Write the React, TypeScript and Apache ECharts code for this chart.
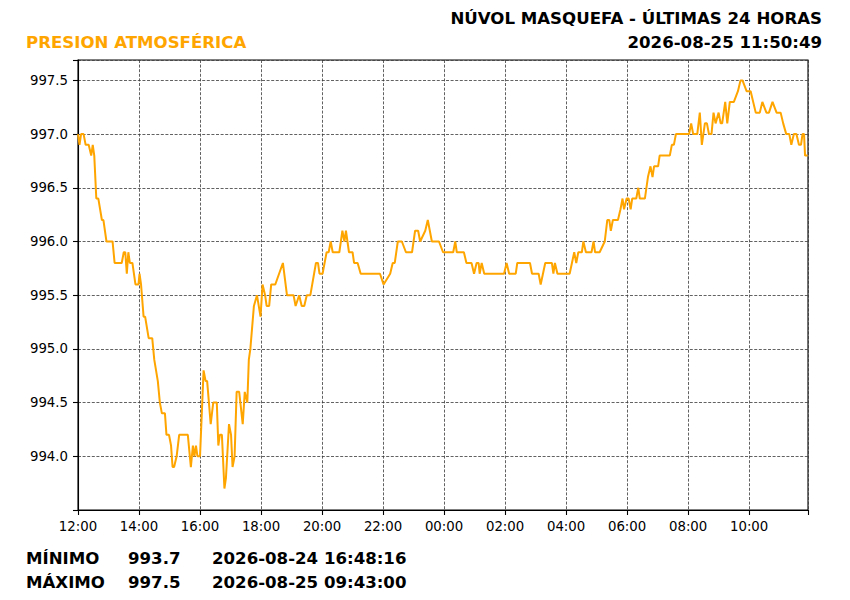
import React, { useEffect, useRef } from "react";
import * as echarts from "echarts";

const TITLE_LEFT = "PRESION ATMOSFÉRICA";
const TITLE_RIGHT_1 = "NÚVOL MASQUEFA - ÚLTIMAS 24 HORAS";
const TITLE_RIGHT_2 = "2026-08-25 11:50:49";

const STAT_LABELS = ["MÍNIMO", "MÁXIMO"];
const STAT_VALUES = ["993.7", "997.5"];
const STAT_TIMES = ["2026-08-24 16:48:16", "2026-08-25 09:43:00"];

const X_TICK_LABELS = ["12:00", "14:00", "16:00", "18:00", "20:00", "22:00", "00:00", "02:00", "04:00", "06:00", "08:00", "10:00"];
const Y_TICK_VALUES = [994.0, 994.5, 995.0, 995.5, 996.0, 996.5, 997.0, 997.5];

const TIMES = [
  "12:00", "12:03", "12:06", "12:11", "12:15", "12:21", "12:26", "12:29", "12:32", "12:36",
  "12:40", "12:47", "12:50", "12:56", "13:08", "13:12", "13:26", "13:30", "13:33", "13:36",
  "13:39", "13:42", "13:47", "13:53", "13:59", "14:01", "14:04", "14:09", "14:12", "14:19",
  "14:26", "14:30", "14:37", "14:41", "14:45", "14:51", "14:54", "14:59", "15:03", "15:06",
  "15:09", "15:14", "15:19", "15:36", "15:38", "15:42", "15:46", "15:49", "15:52", "15:55",
  "16:00", "16:07", "16:11", "16:14", "16:21", "16:26", "16:33", "16:36", "16:39", "16:43",
  "16:48", "16:51", "16:57", "17:01", "17:04", "17:08", "17:12", "17:17", "17:24", "17:28",
  "17:33", "17:36", "17:39", "17:46", "17:52", "17:59", "18:03", "18:08", "18:11", "18:16",
  "18:20", "18:28", "18:43", "18:51", "19:04", "19:08", "19:15", "19:20", "19:25", "19:30",
  "19:37", "19:48", "19:52", "19:55", "20:01", "20:09", "20:13", "20:17", "20:21", "20:34",
  "20:40", "20:44", "20:47", "20:53", "21:00", "21:03", "21:10", "21:16", "21:54", "22:01",
  "22:14", "22:19", "22:23", "22:29", "22:37", "22:45", "22:57", "23:03", "23:09", "23:13",
  "23:23", "23:28", "23:36", "23:50", "23:58", "00:18", "00:22", "00:25", "00:39", "00:44",
  "00:54", "00:59", "01:04", "01:08", "01:10", "01:14", "01:19", "01:58", "02:03", "02:08",
  "02:21", "02:24", "02:49", "02:53", "03:06", "03:10", "03:19", "03:32", "03:35", "03:38",
  "03:43", "04:07", "04:16", "04:20", "04:24", "04:31", "04:34", "04:39", "04:50", "04:54",
  "04:57", "05:06", "05:16", "05:21", "05:25", "05:28", "05:32", "05:42", "05:47", "05:51",
  "05:54", "05:59", "06:03", "06:07", "06:10", "06:18", "06:22", "06:25", "06:35", "06:41",
  "06:46", "06:50", "06:53", "07:01", "07:04", "07:24", "07:28", "07:32", "07:36", "08:02",
  "08:06", "08:10", "08:18", "08:23", "08:27", "08:33", "08:37", "08:41", "08:46", "08:50",
  "08:54", "09:00", "09:04", "09:07", "09:13", "09:17", "09:22", "09:30", "09:38", "09:43",
  "09:47", "09:55", "10:03", "10:13", "10:21", "10:26", "10:34", "10:39", "10:46", "10:54",
  "11:02", "11:07", "11:13", "11:19", "11:23", "11:28", "11:33", "11:38", "11:42", "11:45",
  "11:48", "11:50", "11:55",
];

const PRESSURE = [
  997.0, 996.9, 997.0, 997.0, 996.9, 996.9, 996.8, 996.9, 996.8, 996.4,
  996.4, 996.2, 996.2, 996.0, 996.0, 995.8, 995.8, 995.9, 995.9, 995.7,
  995.9, 995.8, 995.8, 995.6, 995.6, 995.7, 995.6, 995.3, 995.3, 995.1,
  995.1, 994.9, 994.7, 994.5, 994.4, 994.4, 994.2, 994.2, 994.1, 993.9,
  993.9, 994.0, 994.2, 994.2, 994.1, 993.9, 994.1, 994.0, 994.1, 994.0,
  994.0, 994.8, 994.7, 994.7, 994.3, 994.5, 994.5, 994.1, 994.2, 994.2,
  993.7, 993.8, 994.3, 994.2, 993.9, 994.0, 994.6, 994.6, 994.3, 994.6,
  994.5, 994.9, 995.0, 995.4, 995.5, 995.3, 995.6, 995.5, 995.4, 995.4,
  995.6, 995.6, 995.8, 995.5, 995.5, 995.4, 995.5, 995.4, 995.4, 995.5,
  995.5, 995.8, 995.8, 995.7, 995.7, 995.9, 995.9, 996.0, 995.9, 995.9,
  996.1, 996.0, 996.1, 995.9, 995.9, 995.8, 995.8, 995.7, 995.7, 995.6,
  995.7, 995.8, 995.8, 996.0, 996.0, 995.9, 995.9, 996.1, 996.1, 996.0,
  996.1, 996.2, 996.0, 996.0, 995.9, 995.9, 996.0, 995.9, 995.9, 995.8,
  995.8, 995.7, 995.8, 995.8, 995.7, 995.8, 995.7, 995.7, 995.8, 995.7,
  995.7, 995.8, 995.8, 995.7, 995.7, 995.6, 995.8, 995.8, 995.7, 995.8,
  995.7, 995.7, 995.9, 995.8, 995.9, 995.9, 996.0, 995.9, 995.9, 996.0,
  995.9, 995.9, 996.0, 996.2, 996.2, 996.1, 996.2, 996.2, 996.3, 996.4,
  996.3, 996.4, 996.4, 996.3, 996.4, 996.4, 996.5, 996.4, 996.4, 996.6,
  996.7, 996.6, 996.7, 996.7, 996.8, 996.8, 996.9, 996.9, 997.0, 997.0,
  997.1, 997.0, 997.0, 997.2, 996.9, 997.1, 997.1, 997.0, 997.0, 997.2,
  997.1, 997.2, 997.1, 997.1, 997.3, 997.1, 997.3, 997.3, 997.4, 997.5,
  997.5, 997.4, 997.4, 997.2, 997.2, 997.3, 997.2, 997.2, 997.3, 997.2,
  997.2, 997.1, 997.0, 997.0, 996.9, 997.0, 997.0, 996.9, 996.9, 997.0,
  997.0, 996.8, 996.8,
];

const FONT = "'DejaVu Sans', Verdana, sans-serif";

function hoursSinceNoon(t: string): number {
  const [h, m] = t.split(":").map(Number);
  return ((h - 12 + 24) % 24) + m / 60;
}

export default function App() {
  const ref = useRef<HTMLDivElement>(null);

  useEffect(() => {
    if (!ref.current) return;
    const chart = echarts.init(ref.current, undefined, { renderer: "svg" });

    const seriesData = TIMES.map((t, i) => [hoursSinceNoon(t), PRESSURE[i]]);

    const boldText = (text: string, x: number, y: number, align: string, color: string) => ({
      type: "text",
      x,
      y,
      style: {
        text,
        fill: color,
        font: `bold 16.6px ${FONT}`,
        textAlign: align,
        textVerticalAlign: "middle",
      },
    });

    const graphics: any[] = [
      boldText(TITLE_LEFT, 26, 42, "left", "#FFA500"),
      boldText(TITLE_RIGHT_1, 822, 18, "right", "#000"),
      boldText(TITLE_RIGHT_2, 822, 42, "right", "#000"),
    ];
    STAT_LABELS.forEach((lab, i) => {
      const y = 558 + i * 24;
      graphics.push(boldText(lab, 26, y, "left", "#000"));
      graphics.push(boldText(STAT_VALUES[i], 128, y, "left", "#000"));
      graphics.push(boldText(STAT_TIMES[i], 212, y, "left", "#000"));
    });

    chart.setOption({
      animation: false,
      backgroundColor: "#fff",
      grid: {
        left: 78,
        right: 42,
        top: 60,
        bottom: 90,
        show: true,
        borderColor: "#000",
        borderWidth: 1.1,
        backgroundColor: "transparent",
      },
      xAxis: {
        type: "value",
        min: 0,
        max: 23.93,
        interval: 2,
        axisLine: { show: true, lineStyle: { color: "#000", width: 1.1 } },
        axisTick: { show: true, length: 5, lineStyle: { color: "#000", width: 1.1 } },
        axisLabel: {
          color: "#000",
          fontFamily: FONT,
          fontSize: 13.3,
          margin: 10,
          showMaxLabel: true,
          formatter: (v: number) => {
            const k = v / 2;
            if (Math.abs(k - Math.round(k)) < 1e-6 && Math.round(k) < X_TICK_LABELS.length) {
              return X_TICK_LABELS[Math.round(k)];
            }
            return "";
          },
        },
        splitLine: {
          show: true,
          lineStyle: { color: "#3a3a3a", width: 0.8, type: [3, 1.6] },
        },
      },
      yAxis: {
        type: "value",
        min: 993.5,
        max: 997.69,
        interval: 0.5,
        axisLine: { show: true, lineStyle: { color: "#000", width: 1.1 } },
        axisTick: { show: true, length: 5, lineStyle: { color: "#000", width: 1.1 } },
        axisLabel: {
          color: "#000",
          fontFamily: FONT,
          fontSize: 13.3,
          margin: 10,
          formatter: (v: number) => {
            const hit = Y_TICK_VALUES.find((t) => Math.abs(t - v) < 1e-6);
            return hit !== undefined ? hit.toFixed(1) : "";
          },
        },
        splitLine: {
          show: true,
          lineStyle: { color: "#3a3a3a", width: 0.8, type: [3, 1.6] },
        },
      },
      series: [
        {
          type: "line",
          data: seriesData,
          showSymbol: false,
          symbol: "none",
          lineStyle: { color: "#FFA500", width: 2 },
          itemStyle: { color: "#FFA500" },
          clip: true,
          z: 3,
        },
      ],
      graphic: graphics,
    });

    return () => {
      chart.dispose();
    };
  }, []);

  return (
    <div
      ref={ref}
      style={{ position: "absolute", left: 0, top: 0, width: 850, height: 600 }}
    />
  );
}
